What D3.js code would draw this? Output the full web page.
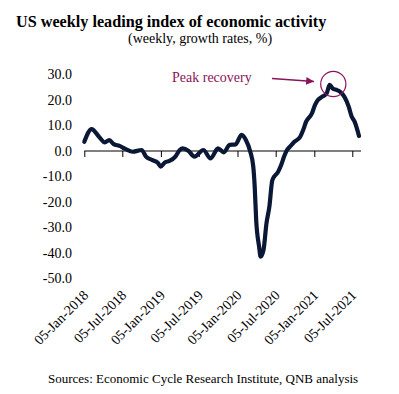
<!DOCTYPE html>
<html>
<head>
<meta charset="utf-8">
<script src="https://cdn.jsdelivr.net/npm/d3@7"></script>
<style>
  body { margin: 0; background: #fff; }
  text { font-family: "Liberation Serif", "Times New Roman", serif; }
</style>
</head>
<body>
<div id="chart"></div>
<script>
// weekly reading, dates are Fridays from 05-Jan-2018
const dates = [
  "2018-01-05", "2018-02-09", "2018-03-16", "2018-04-13", "2018-05-04", "2018-05-25",
  "2018-06-22", "2018-07-20", "2018-08-24", "2018-10-05", "2018-10-26", "2018-11-23",
  "2018-12-21", "2019-01-04", "2019-01-25", "2019-02-15", "2019-03-15", "2019-04-05",
  "2019-04-19", "2019-05-17", "2019-06-14", "2019-07-26", "2019-08-30", "2019-10-04",
  "2019-11-01", "2019-11-29", "2019-12-27", "2020-01-24", "2020-02-14", "2020-03-06",
  "2020-03-20", "2020-03-27", "2020-04-03", "2020-04-17", "2020-04-24", "2020-05-08",
  "2020-05-22", "2020-06-05", "2020-06-19", "2020-07-17", "2020-07-31", "2020-08-14",
  "2020-08-28", "2020-09-11", "2020-10-02", "2020-10-30", "2020-11-13", "2020-11-27",
  "2020-12-25", "2021-01-08", "2021-01-22", "2021-02-12", "2021-03-05", "2021-03-19",
  "2021-04-02", "2021-04-23", "2021-05-07", "2021-05-28", "2021-06-18", "2021-07-02",
  "2021-07-16", "2021-08-06"
];
const growth = [
  3.6, 8.6, 5.6, 3.4, 4.3, 2.7,
  2.0, 0.8, -0.3, 0.4, -2.2, -3.5,
  -4.6, -6.1, -4.4, -3.9, -2.2, 0.4,
  1.0, 0.0, -2.2, 0.4, -2.9, 1.0,
  -0.5, 2.4, 2.6, 6.3, 4.3, -0.3,
  -6.0, -14.0, -27.0, -37.5, -41.4, -38.8,
  -28.4, -21.8, -11.4, -8.1, -5.5, -2.2,
  0.4, 1.7, 3.6, 5.6, 8.2, 11.5,
  14.8, 18.0, 20.0, 21.3, 22.6, 25.9,
  24.6, 23.9, 23.3, 21.3, 17.4, 13.5,
  11.5, 5.9
];
const yTicks = [30, 20, 10, 0, -10, -20, -30, -40, -50];
const xTickLabels = [
  "05-Jan-2018", "05-Jul-2018", "05-Jan-2019", "05-Jul-2019",
  "05-Jan-2020", "05-Jul-2020", "05-Jan-2021", "05-Jul-2021"
];

const width = 399, height = 394;
const parse = d3.timeParse("%Y-%m-%d");
const parseTick = d3.timeParse("%d-%b-%Y");

const data = dates.map((d, i) => ({ date: parse(d), value: growth[i] }));

const svg = d3.select("#chart").append("svg")
  .attr("width", width)
  .attr("height", height);

const x = d3.scaleTime()
  .domain([parse("2018-01-05"), parse("2021-01-05")])
  .range([84.3, 314.3]);

const y = d3.scaleLinear()
  .domain([-50, 30])
  .range([278.5, 74.5]);

// title
svg.append("text")
  .attr("x", 16).attr("y", 27)
  .attr("font-size", 16.2).attr("font-weight", "bold")
  .text("US weekly leading index of economic activity");

svg.append("text")
  .attr("x", 128).attr("y", 43)
  .attr("font-size", 14)
  .text("(weekly, growth rates, %)");

// y labels, no axis line
svg.append("g")
  .selectAll("text")
  .data(yTicks)
  .enter().append("text")
  .attr("x", 72)
  .attr("y", d => y(d))
  .attr("dy", "0.35em")
  .attr("text-anchor", "end")
  .attr("font-size", 14)
  .text(d => d.toFixed(1));

// x axis on the zero line
const tickDates = xTickLabels.map(parseTick);
const xAxis = d3.axisBottom(x)
  .tickValues(tickDates)
  .tickSize(6)
  .tickFormat("");

const gx = svg.append("g")
  .attr("transform", "translate(0," + y(0) + ")")
  .call(xAxis);
gx.select(".domain").attr("d", "M84.3,0H361").attr("stroke", "#000");
gx.selectAll(".tick line").attr("stroke", "#000");

// x labels sit low, rotated
svg.append("g")
  .selectAll("text")
  .data(tickDates)
  .enter().append("text")
  .attr("transform", (d, i) => "translate(" + (x(d) + 5) + ",296) rotate(-45)")
  .attr("text-anchor", "end")
  .attr("font-size", 14)
  .text((d, i) => xTickLabels[i]);

// the line
const line = d3.line()
  .x(d => x(d.date))
  .y(d => y(d.value))
  .curve(d3.curveMonotoneX);

svg.append("path")
  .datum(data)
  .attr("fill", "none")
  .attr("stroke", "#0a1836")
  .attr("stroke-width", 4.2)
  .attr("stroke-linejoin", "round")
  .attr("stroke-linecap", "round")
  .attr("d", line);

// annotation
const annColor = "#8a1458";
svg.append("defs").append("marker")
  .attr("id", "arrow")
  .attr("viewBox", "0 0 10 10")
  .attr("refX", 10).attr("refY", 5)
  .attr("markerWidth", 8).attr("markerHeight", 6)
  .attr("orient", "auto")
  .append("path")
  .attr("d", "M0,0L10,5L0,10Z")
  .attr("fill", annColor);

svg.append("text")
  .attr("x", 172).attr("y", 82)
  .attr("font-size", 14)
  .attr("fill", annColor)
  .text("Peak recovery");

svg.append("line")
  .attr("x1", 272).attr("y1", 78.5)
  .attr("x2", 314).attr("y2", 81.5)
  .attr("stroke", annColor)
  .attr("stroke-width", 1.3)
  .attr("marker-end", "url(#arrow)");

svg.append("circle")
  .attr("cx", 333.3).attr("cy", 84)
  .attr("r", 12.6)
  .attr("fill", "none")
  .attr("stroke", annColor)
  .attr("stroke-width", 1.2);

svg.append("text")
  .attr("x", 48).attr("y", 383)
  .attr("font-size", 13)
  .text("Sources: Economic Cycle Research Institute, QNB analysis");
</script>
</body>
</html>
